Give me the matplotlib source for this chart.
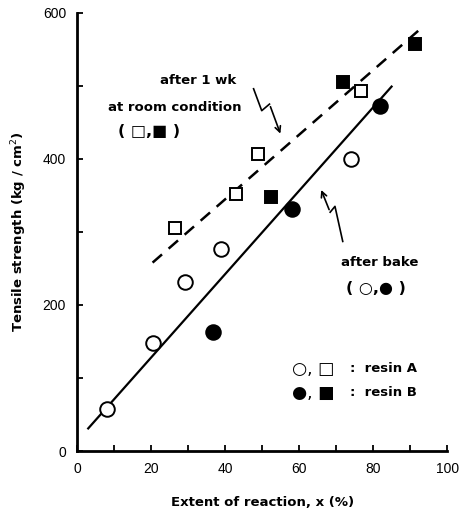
import matplotlib.pyplot as plt
import numpy as np

# resin A (open) and resin B (filled), after bake
bake_A_x = [8, 20.4, 29.2, 38.9, 74]
bake_A_y = [58, 148, 231, 277, 400]
bake_B_x = [36.7, 58.2, 82]
bake_B_y = [163, 331, 473]

# after 1 week at room condition
wk_A_x = [26.5, 42.9, 49, 76.7]
wk_A_y = [305, 352, 407, 493]
wk_B_x = [52.3, 71.8, 91.2]
wk_B_y = [348, 505, 557]

# fitted lines (end points)
bake_line_x = [3, 85]
bake_line_y = [31, 499]
wk_line_x = [20.4, 92.8]
wk_line_y = [258, 578]

# squiggle arrows
wk_arrow_x = [47.7, 49.9, 52.0, 55.2]
wk_arrow_y = [496, 466, 475, 431]
bake_arrow_x = [71.8, 69.7, 68.4, 65.7]
bake_arrow_y = [287, 335, 327, 361]

fig = plt.figure(figsize=(4.59, 5.12), dpi=100)
ax = fig.add_axes([0.168, 0.119, 0.806, 0.856])

ax.plot(bake_line_x, bake_line_y, color='black', lw=1.6)
ax.plot(wk_line_x, wk_line_y, color='black', lw=1.8, dashes=(5, 3.5))

ms_c = 10.5
ms_s = 8.5
ax.plot(bake_A_x, bake_A_y, 'o', ms=ms_c, mfc='white', mec='black', mew=1.4)
ax.plot(bake_B_x, bake_B_y, 'o', ms=ms_c, mfc='black', mec='black', mew=1.4)
ax.plot(wk_A_x, wk_A_y, 's', ms=ms_s, mfc='white', mec='black', mew=1.4)
ax.plot(wk_B_x, wk_B_y, 's', ms=ms_s, mfc='black', mec='black', mew=1.4)

# wavy arrows
ax.plot(wk_arrow_x[:-1], wk_arrow_y[:-1], color='black', lw=1.2)
ax.annotate('', xy=(wk_arrow_x[-1], wk_arrow_y[-1]), xytext=(wk_arrow_x[-2], wk_arrow_y[-2]),
            arrowprops=dict(arrowstyle='->', color='black', lw=1.2))
ax.plot(bake_arrow_x[:-1], bake_arrow_y[:-1], color='black', lw=1.2)
ax.annotate('', xy=(bake_arrow_x[-1], bake_arrow_y[-1]), xytext=(bake_arrow_x[-2], bake_arrow_y[-2]),
            arrowprops=dict(arrowstyle='->', color='black', lw=1.2))

tk = dict(fontsize=9.5, fontweight='bold', ha='center', va='center')
ax.text(32.7, 507, 'after 1 wk', **tk)
ax.text(26.5, 471, 'at room condition', **tk)
ax.text(19.4, 437, '( □,■ )', fontsize=11.5, fontweight='bold', ha='center', va='center')
ax.text(81.8, 258, 'after bake', **tk)
ax.text(80.8, 222, '( ○,● )', fontsize=11.5, fontweight='bold', ha='center', va='center')

# key
ax.text(58.0, 113, '○, □', fontsize=12.5, ha='left', va='center')
ax.text(58.0, 80, '●, ■', fontsize=12.5, ha='left', va='center')
ax.text(73.7, 113, ':  resin A', fontsize=9.5, fontweight='bold', ha='left', va='center')
ax.text(73.7, 80, ':  resin B', fontsize=9.5, fontweight='bold', ha='left', va='center')

ax.set_xlim(0, 100)
ax.set_ylim(0, 600)
ax.set_xticks(np.arange(0, 101, 20))
ax.set_yticks(np.arange(0, 601, 200))
ax.set_xticks(np.arange(10, 100, 20), minor=True)
ax.set_yticks(np.arange(100, 600, 200), minor=True)
ax.tick_params(which='both', direction='in', length=4, width=1.3, labelsize=10, pad=8)
for lab in ax.get_xticklabels() + ax.get_yticklabels():
    lab.set_family('Liberation Sans')
ax.spines['top'].set_visible(False)
ax.spines['right'].set_visible(False)
ax.spines['left'].set_linewidth(2)
ax.spines['bottom'].set_linewidth(2)

ax.set_xlabel('Extent of reaction, x (%)', fontsize=9.5, fontweight='bold', labelpad=14)
ax.set_ylabel('Tensile strength (kg / cm$^2$)', fontsize=9.5, fontweight='bold', labelpad=10)

fig.savefig('out.png', dpi=100)
